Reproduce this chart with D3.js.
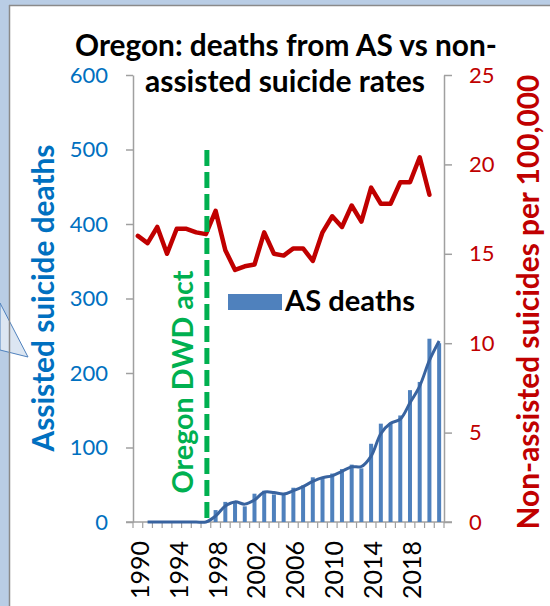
<!DOCTYPE html>
<html><head><meta charset="utf-8">
<script src="https://cdn.jsdelivr.net/npm/d3@7"></script>
<style>html,body{margin:0;padding:0;background:#fff}svg{display:block}</style>
</head><body>
<svg id="c" width="550" height="606"></svg>
<script>
// ---- data ----
const years = [1990,1991,1992,1993,1994,1995,1996,1997,1998,1999,2000,2001,2002,2003,2004,2005,2006,2007,2008,2009,2010,2011,2012,2013,2014,2015,2016,2017,2018,2019,2020,2021];
const asDeaths = [0,0,0,0,0,0,0,0,16,27,27,21,38,42,37,38,46,49,60,59,65,71,77,72,105,132,133,143,177,188,246,240];
const trendYears = [1991,1992,1993,1994,1995,1996,1997,1998,1999,2000,2001,2002,2003,2004,2005,2006,2007,2008,2009,2010,2011,2012,2013,2014,2015,2016,2017,2018,2019,2020,2021];
const trendValues = [0,0,0,0,0,0,0,8,21.5,27,24,29.5,40,39.5,37.5,42,47.5,54.5,59.5,62,68,74,74.5,88.5,118.5,132.5,138,160,182.5,217,243];
const rateYears = [1990,1991,1992,1993,1994,1995,1996,1997,1998,1999,2000,2001,2002,2003,2004,2005,2006,2007,2008,2009,2010,2011,2012,2013,2014,2015,2016,2017,2018,2019,2020];
const rates = [16.0,15.6,16.5,15.0,16.4,16.4,16.2,16.1,17.4,15.2,14.1,14.3,14.4,16.2,15.0,14.9,15.3,15.3,14.6,16.2,17.1,16.5,17.7,16.8,18.7,17.8,17.8,19.0,19.0,20.4,18.3];
const leftTicks = [0,100,200,300,400,500,600];
const rightTicks = [0,5,10,15,20,25];
const xLabelYears = [1990,1994,1998,2002,2006,2010,2014,2018];
const actYear = 1997;
const titleLines = ["Oregon: deaths from AS vs non-","assisted suicide rates"];

// ---- layout ----
const svg = d3.select("#c");
const FONT = "Lato, 'Open Sans', sans-serif";
const L = 133, R = 444, T = 75, B = 522;
const AXIS = "#a0a0a0";

// background & panel
svg.append("rect").attr("width",550).attr("height",606).attr("fill","#b9cde5");
svg.append("rect").attr("x",9).attr("y",5).attr("width",560).attr("height",620).attr("fill","#fff");
svg.append("polygon").attr("points","0,303 28,357 0,350").attr("fill","#dce6f2").attr("stroke","#4f81bd").attr("stroke-width",1);
svg.append("line").attr("x1",9.5).attr("x2",9.5).attr("y1",5).attr("y2",606).attr("stroke","#8a8a8a").attr("stroke-width",1.5);
svg.append("line").attr("x1",9).attr("x2",550).attr("y1",5.5).attr("y2",5.5).attr("stroke","#8a8a8a").attr("stroke-width",1.5);

const x = d3.scaleBand().domain(years).range([L,R]).padding(0);
const yL = d3.scaleLinear().domain([0,600]).range([B,T]);
const yR = d3.scaleLinear().domain([0,25]).range([B,T]);
const cx = d => x(d) + x.bandwidth()/2;

function fit(sel, w){
  const n = sel.node(); const cur = parseFloat(sel.attr("font-size"));
  const len = n.getComputedTextLength();
  sel.attr("font-size", cur * w / len);
}

// left axis
const gL = svg.append("g").attr("transform",`translate(${L},0)`)
  .call(d3.axisLeft(yL).tickValues(leftTicks).tickSize(7).tickSizeOuter(0).tickPadding(18));
gL.select(".domain").attr("stroke",AXIS).attr("stroke-width",1.5);
gL.selectAll(".tick line").attr("stroke",AXIS).attr("stroke-width",1.5);
gL.selectAll("text").attr("fill","#0070c0").attr("font-family",FONT).attr("font-size",22);

// right axis
const gR = svg.append("g").attr("transform",`translate(${R},0)`)
  .call(d3.axisRight(yR).tickValues(rightTicks).tickSize(8).tickSizeOuter(0).tickPadding(17));
gR.select(".domain").attr("stroke",AXIS).attr("stroke-width",1.5);
gR.selectAll(".tick line").attr("stroke",AXIS).attr("stroke-width",1.5);
gR.selectAll("text").attr("fill","#c00000").attr("font-family",FONT).attr("font-size",22);

// x axis
svg.append("line").attr("x1",L-7).attr("x2",R+8).attr("y1",B).attr("y2",B).attr("stroke",AXIS).attr("stroke-width",1.5);
const bounds = years.map(d=>x(d)).concat([R]);
svg.append("g").selectAll("line").data(bounds).join("line")
  .attr("x1",d=>d).attr("x2",d=>d).attr("y1",B).attr("y2",B+6).attr("stroke",AXIS).attr("stroke-width",1.2);
svg.append("g").selectAll("text").data(xLabelYears).join("text")
  .attr("transform",d=>`translate(${cx(d)+1},541) rotate(-90)`)
  .attr("text-anchor","end").attr("dominant-baseline","central")
  .attr("font-family",FONT).attr("font-size",25).attr("fill","#000").text(d=>d);

// bars
const bw = 4;
svg.append("g").selectAll("rect").data(years.map((y,i)=>({y,v:asDeaths[i]})).filter(d=>d.v>0)).join("rect")
  .attr("x",d=>cx(d.y)-bw/2).attr("width",bw)
  .attr("y",d=>yL(d.v)).attr("height",d=>B-yL(d.v)).attr("fill","#4f81bd");

// trend line
svg.append("path").datum(trendYears.map((y,i)=>[cx(y),yL(trendValues[i])]))
  .attr("d",d3.line().curve(d3.curveCatmullRom.alpha(0.5)))
  .attr("fill","none").attr("stroke","#38639f").attr("stroke-width",3);

// red rate line
svg.append("path").datum(rateYears.map((y,i)=>[cx(y),yR(rates[i])]))
  .attr("d",d3.line()).attr("fill","none").attr("stroke","#c00000").attr("stroke-width",4.5).attr("stroke-linejoin","round").attr("stroke-linecap","round");

// act line
svg.append("line").attr("x1",cx(actYear)+1).attr("x2",cx(actYear)+1).attr("y1",150).attr("y2",B)
  .attr("stroke","#00b050").attr("stroke-width",5).attr("stroke-dasharray","16,6");
const act = svg.append("text").attr("transform",`translate(182,382) rotate(-90)`)
  .attr("text-anchor","middle").attr("dominant-baseline","central")
  .attr("font-family",FONT).attr("font-weight","bold").attr("font-size",28).attr("fill","#00b050").text("Oregon DWD act");
fit(act,223);

// legend
svg.append("rect").attr("x",228).attr("y",294).attr("width",54).attr("height",16).attr("fill","#4f81bd");
const leg = svg.append("text").attr("x",285).attr("y",311).attr("font-family",FONT).attr("font-weight","bold").attr("font-size",26).attr("fill","#000").text("AS deaths");
fit(leg,130);

// titles
const t1 = svg.append("text").attr("x",286).attr("y",56).attr("text-anchor","middle").attr("font-family",FONT).attr("font-weight","bold").attr("font-size",26).text(titleLines[0]);
fit(t1,422);
const t2 = svg.append("text").attr("x",285).attr("y",92).attr("text-anchor","middle").attr("font-family",FONT).attr("font-weight","bold").attr("font-size",26).text(titleLines[1]);
fit(t2,280);

// axis titles
const yl = svg.append("text").attr("transform","translate(42,298) rotate(-90)").attr("text-anchor","middle").attr("dominant-baseline","central")
  .attr("font-family",FONT).attr("font-weight","bold").attr("font-size",26).attr("fill","#0070c0").text("Assisted suicide deaths");
fit(yl,307);
const yr = svg.append("text").attr("transform","translate(527,302) rotate(-90)").attr("text-anchor","middle").attr("dominant-baseline","central")
  .attr("font-family",FONT).attr("font-weight","bold").attr("font-size",26).attr("fill","#c00000").text("Non-assisted suicides per 100,000");
fit(yr,455);
</script>
</body></html>
